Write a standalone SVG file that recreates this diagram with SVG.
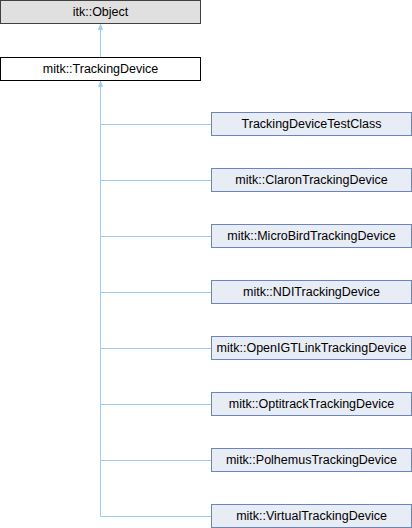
<svg xmlns="http://www.w3.org/2000/svg" width="412" height="528" viewBox="0 0 412 528">
<style>
text{font-family:"Liberation Sans",Arial,sans-serif;font-size:12.5px;fill:#000;text-anchor:middle}
.child{fill:#e8ecf5;stroke:#6c84bc;stroke-width:1}
.edge{stroke:#9ccfee;stroke-width:1;fill:none}
.ah{fill:#9ccfee;stroke:#9ccfee;stroke-width:1}
</style>
<rect width="412" height="528" fill="#fff"/>
<g id="connectors">
<path class="edge" d="M100.5,57 V24"/>
<path class="ah" d="M100.5,24.5 L102.5,29.5 L98.5,29.5 Z"/>
<path class="edge" d="M100.5,516.5 V81"/>
<path class="ah" d="M100.5,81.5 L102.5,86.5 L98.5,86.5 Z"/>
<path class="edge" d="M100.5,124.5 H211 M100.5,180.5 H211 M100.5,236.5 H211 M100.5,292.5 H211 M100.5,348.5 H211 M100.5,404.5 H211 M100.5,460.5 H211 M100.5,516.5 H211"/>
</g>
<g id="itkObject">
<rect x="0.5" y="0.5" width="200" height="23" fill="#e0e0e0" stroke="#404040"/>
<text x="100.5" y="16">itk::Object</text>
</g>
<g id="TrackingDevice">
<rect x="0.5" y="57.5" width="200" height="23" fill="#fff" stroke="#000"/>
<text x="100.5" y="73">mitk::TrackingDevice</text>
</g>
<g id="TrackingDeviceTestClass">
<rect class="child" x="211.5" y="112.5" width="200" height="23"/>
<text x="311.5" y="128">TrackingDeviceTestClass</text>
</g>
<g id="ClaronTrackingDevice">
<rect class="child" x="211.5" y="168.5" width="200" height="23"/>
<text x="311.5" y="184">mitk::ClaronTrackingDevice</text>
</g>
<g id="MicroBirdTrackingDevice">
<rect class="child" x="211.5" y="224.5" width="200" height="23"/>
<text x="311.5" y="240">mitk::MicroBirdTrackingDevice</text>
</g>
<g id="NDITrackingDevice">
<rect class="child" x="211.5" y="280.5" width="200" height="23"/>
<text x="311.5" y="296">mitk::NDITrackingDevice</text>
</g>
<g id="OpenIGTLinkTrackingDevice">
<rect class="child" x="211.5" y="336.5" width="200" height="23"/>
<text x="311.5" y="352">mitk::OpenIGTLinkTrackingDevice</text>
</g>
<g id="OptitrackTrackingDevice">
<rect class="child" x="211.5" y="392.5" width="200" height="23"/>
<text x="311.5" y="408">mitk::OptitrackTrackingDevice</text>
</g>
<g id="PolhemusTrackingDevice">
<rect class="child" x="211.5" y="448.5" width="200" height="23"/>
<text x="311.5" y="464">mitk::PolhemusTrackingDevice</text>
</g>
<g id="VirtualTrackingDevice">
<rect class="child" x="211.5" y="504.5" width="200" height="23"/>
<text x="311.5" y="520">mitk::VirtualTrackingDevice</text>
</g>
</svg>
